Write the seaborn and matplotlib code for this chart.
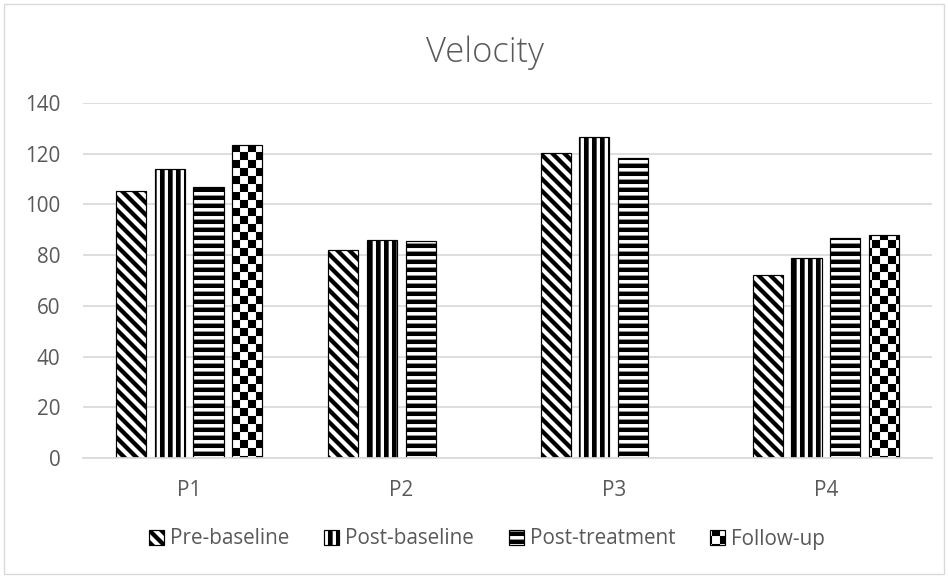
import numpy as np
import pandas as pd
import matplotlib
matplotlib.use("Agg")
import matplotlib.pyplot as plt
import seaborn as sns
from matplotlib import hatch as mhatch
from matplotlib.path import Path
from matplotlib.patches import Patch, Rectangle

# ---------------- data ----------------
categories = ["P1", "P2", "P3", "P4"]
series = ["Pre-baseline", "Post-baseline", "Post-treatment", "Follow-up"]
pre_baseline = [105.1, 82.1, 120.3, 72.2]
post_baseline = [114.0, 86.0, 126.7, 78.7]
post_treatment = [107.0, 85.7, 118.2, 86.9]
follow_up = [123.3, np.nan, np.nan, 87.9]
yticks = [0, 20, 40, 60, 80, 100, 120, 140]
title = "Velocity"

values = [pre_baseline, post_baseline, post_treatment, follow_up]
rows = []
for s, vals in zip(series, values):
    for c, v in zip(categories, vals):
        if not np.isnan(v):
            rows.append({"Participant": c, "Phase": s, "Velocity": v})
df = pd.DataFrame(rows)

# ---------------- custom filled hatch patterns ----------------
_CODES = [Path.MOVETO, Path.LINETO, Path.LINETO, Path.LINETO, Path.CLOSEPOLY]


class _PolyHatch(mhatch.HatchPatternBase):
    char = None

    def __init__(self, hatch, density):
        cnt = hatch.count(self.char)
        self.polys = self.make() if cnt else []
        self.num_vertices = 5 * len(self.polys)

    def set_vertices_and_codes(self, vertices, codes):
        if not self.polys:
            return
        v = np.concatenate([np.vstack([p, p[:1]]) for p in self.polys])
        vertices[:] = v
        codes[:] = np.tile(_CODES, len(self.polys))


class _VStripes(_PolyHatch):
    char = "|"

    def make(self):
        n, f, e = 12, 0.58, 0.02
        out = []
        for i in range(n):
            x0 = i / n
            x1 = x0 + f / n
            out.append(np.array([[x0, -e], [x1, -e], [x1, 1 + e], [x0, 1 + e]]))
        return out


class _HStripes(_PolyHatch):
    char = "-"

    def make(self):
        n, f, e = 12, 0.55, 0.02
        out = []
        for i in range(n):
            y0 = i / n
            y1 = y0 + f / n
            out.append(np.array([[-e, y0], [1 + e, y0], [1 + e, y1], [-e, y1]]))
        return out


class _Diag(_PolyHatch):
    char = "\\"

    def make(self):
        n, f, e = 8, 0.5, 0.03
        w = f / n
        out = []
        for k in range(-n - 1, n + 2):
            x0 = k / n
            out.append(np.array([[x0 - e, 1 + e], [x0 - e + w, 1 + e],
                                 [x0 + 1 + e + w, -e], [x0 + 1 + e, -e]]))
        return out


class _Checker(_PolyHatch):
    char = "*"

    def make(self):
        n = 12
        out = []
        for i in range(n):
            for j in range(n):
                if (i + j) % 2 == 0:
                    x0, x1 = i / n, (i + 1) / n
                    y0, y1 = j / n, (j + 1) / n
                    out.append(np.array([[x0, y0], [x1, y0], [x1, y1], [x0, y1]]))
        return out


mhatch._hatch_types = [_VStripes, _HStripes, _Diag, _Checker]
hatches = {"Pre-baseline": "\\", "Post-baseline": "|",
           "Post-treatment": "-", "Follow-up": "*"}

# ---------------- style ----------------
sns.set_theme(style="white")
plt.rcParams["font.family"] = ["Open Sans", "DejaVu Sans"]
plt.rcParams["hatch.color"] = "black"
plt.rcParams["hatch.linewidth"] = 0.05

TXT = "#595959"
GRID = "#d9d9d9"
FS = 15.5

fig = plt.figure(figsize=(948 / 96, 578 / 96), dpi=96)
ax = fig.add_axes([83 / 948, 120 / 578, 849 / 948, 355 / 578])

sns.barplot(data=df, x="Participant", y="Velocity", hue="Phase",
            order=categories, hue_order=series,
            palette={s: "white" for s in series}, saturation=1,
            width=0.73, gap=0.225, errorbar=None, legend=False,
            edgecolor="black", linewidth=0.9, ax=ax)

slot = 0.73 / 4
for p in ax.patches:
    cx = p.get_x() + p.get_width() / 2
    off = cx - round(cx)
    idx = int(round((off + 0.365 - slot / 2) / slot))
    idx = max(0, min(3, idx))
    p.set_hatch(hatches[series[idx]])
    p.set_facecolor("white")
    p.set_edgecolor("black")

ax.set_ylim(0, 140)
ax.set_xlim(-0.5, 3.5)
ax.set_yticks(yticks)
ax.set_yticklabels([str(t) for t in yticks])
ax.set_xlabel("")
ax.set_ylabel("")
ax.yaxis.grid(True, color=GRID, linewidth=1.3)
ax.set_axisbelow(True)
for s in ["left", "right", "top"]:
    ax.spines[s].set_visible(False)
ax.spines["bottom"].set_color(GRID)
ax.spines["bottom"].set_linewidth(1.3)
ax.tick_params(axis="y", length=0, pad=17, labelsize=FS, labelcolor=TXT)
ax.tick_params(axis="x", length=0, pad=16.5, labelsize=FS, labelcolor=TXT)

fig.text(0.512, 1 - 53 / 578, title, ha="center", va="center",
         fontsize=26, color=TXT, fontweight="light")

handles = [Patch(facecolor="white", edgecolor="black", linewidth=0.9,
                 hatch=hatches[s], label=s) for s in series]
fig.legend(handles=handles, loc="center", bbox_to_anchor=(487 / 948, 1 - 539 / 578),
           ncol=4, frameon=False, fontsize=FS, labelcolor=TXT,
           handlelength=0.72, handleheight=0.72, handletextpad=0.28,
           columnspacing=1.7, borderpad=0.0, borderaxespad=0.0)

fig.patches.append(Rectangle((4 / 948, 4 / 578), 940 / 948, 570 / 578,
                             transform=fig.transFigure, fill=False,
                             edgecolor=GRID, linewidth=1.0))

fig.savefig("out.png", dpi=96)
